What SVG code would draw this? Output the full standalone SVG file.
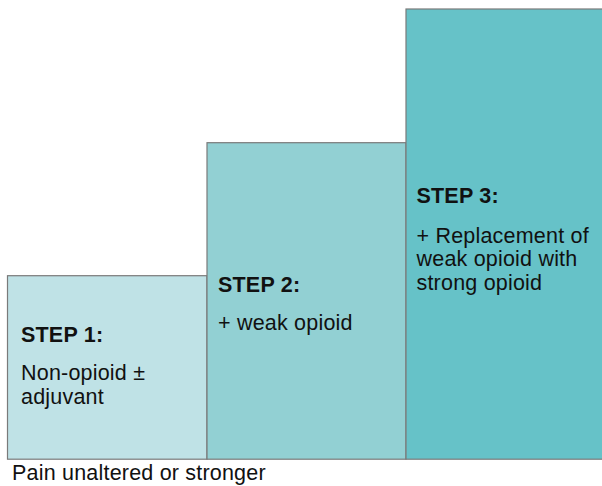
<svg xmlns="http://www.w3.org/2000/svg" width="602" height="486" viewBox="0 0 602 486">
<style>
.box{stroke:#7a7a7a;stroke-width:1.2}
text{font-family:"Liberation Sans",Arial,sans-serif;font-size:21.5px;letter-spacing:0.2px;fill:#111}
.h{font-weight:bold}
</style>
<rect width="602" height="486" fill="#fff"/>
<g id="step1">
<rect class="box" x="7.5" y="275.7" width="199.5" height="183.5" fill="#bfe2e6"/>
<text class="h" x="21" y="342">STEP 1:</text>
<text x="21" y="380">Non-opioid ±</text>
<text x="21" y="404">adjuvant</text>
</g>
<g id="step2">
<rect class="box" x="207" y="142.7" width="199" height="316.5" fill="#92d0d3"/>
<text class="h" x="218" y="292">STEP 2:</text>
<text x="218" y="330">+ weak opioid</text>
</g>
<g id="step3">
<rect class="box" x="406" y="9" width="200" height="450.2" fill="#66c2c8"/>
<text class="h" x="416.5" y="202.5">STEP 3:</text>
<text x="416.5" y="242.5">+ Replacement of</text>
<text x="416.5" y="266">weak opioid with</text>
<text x="416.5" y="289.5">strong opioid</text>
</g>
<g id="connectors"/>
<text id="axis" x="12" y="480">Pain unaltered or stronger</text>
</svg>
